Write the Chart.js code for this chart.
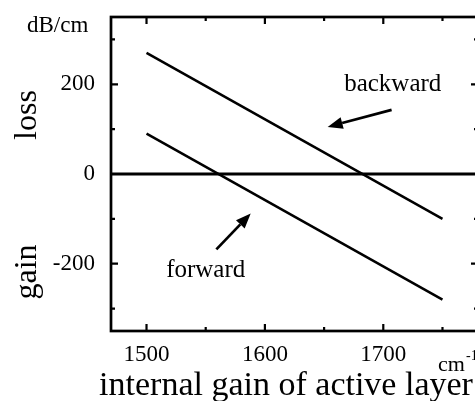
<!DOCTYPE html>
<html>
<head>
<meta charset="utf-8">
<script src="https://cdn.jsdelivr.net/npm/chart.js@4.4.1/dist/chart.umd.min.js"></script>
<style>
  html, body { margin: 0; padding: 0; background: #fff; overflow: hidden; }
  #wrap { width: 475px; height: 401px; overflow: hidden; }
  #wrap div { width: 482px; height: 401px; }
</style>
</head>
<body>
<div id="wrap"><div><canvas id="chart" width="482" height="401"></canvas></div></div>
<script>
// data
const wavenumbers = [1500, 1750];
const backwardLoss = [270, -100];
const forwardLoss = [90, -280];
const zeroLineX = [1470, 1780];
const zeroLineY = [0, 0];

const xTickLabels = [1500, 1600, 1700];
const xMinorTicks = [1550, 1650, 1750];
const yTickLabels = [-200, 0, 200];
const yMinorTicks = [-300, -100, 100, 300];

// arrow tail -> head, in data units
const backwardArrow = [[1707, 143], [1653, 105]];
const forwardArrow = [[1559, -168], [1588, -88]];
const backwardLabel = [1708, 185];
const forwardLabel = [1550, -230];

const serif = '"Liberation Serif", "Times New Roman", serif';

const toPoints = (xs, ys) => xs.map((x, i) => ({ x: x, y: ys[i] }));

const decorations = {
  id: 'decorations',
  afterDraw(chart) {
    const ctx = chart.ctx;
    const a = chart.chartArea;
    const xs = chart.scales.x, ys = chart.scales.y;
    ctx.save();
    ctx.strokeStyle = '#000';
    ctx.fillStyle = '#000';

    // frame
    ctx.lineWidth = 2.7;
    ctx.strokeRect(a.left, a.top, a.right - a.left, a.bottom - a.top);

    // inward ticks on all four sides
    const tick = (len, px, vertical) => {
      if (vertical) {
        ctx.beginPath();
        ctx.moveTo(px, a.bottom); ctx.lineTo(px, a.bottom - len);
        ctx.moveTo(px, a.top); ctx.lineTo(px, a.top + len);
        ctx.stroke();
      } else {
        ctx.beginPath();
        ctx.moveTo(a.left, px); ctx.lineTo(a.left + len, px);
        ctx.moveTo(a.right, px); ctx.lineTo(a.right - len, px);
        ctx.stroke();
      }
    };
    ctx.lineWidth = 2.2;
    xTickLabels.forEach(v => tick(7, xs.getPixelForValue(v), true));
    xMinorTicks.forEach(v => tick(4, xs.getPixelForValue(v), true));
    yTickLabels.forEach(v => tick(7, ys.getPixelForValue(v), false));
    yMinorTicks.forEach(v => tick(4, ys.getPixelForValue(v), false));

    // arrows
    const arrow = (pts) => {
      const x1 = xs.getPixelForValue(pts[0][0]), y1 = ys.getPixelForValue(pts[0][1]);
      const x2 = xs.getPixelForValue(pts[1][0]), y2 = ys.getPixelForValue(pts[1][1]);
      const ang = Math.atan2(y2 - y1, x2 - x1);
      const hl = 15, hw = 6;
      const bx = x2 - hl * Math.cos(ang), by = y2 - hl * Math.sin(ang);
      ctx.lineWidth = 2.7;
      ctx.beginPath();
      ctx.moveTo(x1, y1); ctx.lineTo(bx, by);
      ctx.stroke();
      ctx.beginPath();
      ctx.moveTo(x2, y2);
      ctx.lineTo(bx + hw * Math.sin(ang), by - hw * Math.cos(ang));
      ctx.lineTo(bx - hw * Math.sin(ang), by + hw * Math.cos(ang));
      ctx.closePath();
      ctx.fill();
    };
    arrow(backwardArrow);
    arrow(forwardArrow);

    // text
    ctx.textBaseline = 'alphabetic';
    ctx.textAlign = 'center';
    ctx.font = '25px ' + serif;
    ctx.fillText('backward', xs.getPixelForValue(backwardLabel[0]), ys.getPixelForValue(backwardLabel[1]));
    ctx.fillText('forward', xs.getPixelForValue(forwardLabel[0]), ys.getPixelForValue(forwardLabel[1]));

    ctx.font = '34px ' + serif;
    ctx.fillText('internal gain of active layer', 286, 395);

    ctx.textAlign = 'left';
    ctx.font = '23px ' + serif;
    ctx.fillText('dB/cm', 27, 32);
    ctx.font = '22px ' + serif;
    ctx.fillText('cm', 438, 371);
    ctx.font = '14px ' + serif;
    ctx.fillText('-1', 466, 360);

    ctx.font = '32px ' + serif;
    ctx.textAlign = 'center';
    ctx.save();
    ctx.translate(36, 115);
    ctx.rotate(-Math.PI / 2);
    ctx.fillText('loss', 0, 0);
    ctx.restore();
    ctx.save();
    ctx.translate(36, 272);
    ctx.rotate(-Math.PI / 2);
    ctx.fillText('gain', 0, 0);
    ctx.restore();

    ctx.restore();
  }
};

new Chart(document.getElementById('chart'), {
  type: 'scatter',
  data: {
    datasets: [
      { label: 'backward', data: toPoints(wavenumbers, backwardLoss), showLine: true, borderColor: '#000', borderWidth: 2.5, pointRadius: 0 },
      { label: 'forward', data: toPoints(wavenumbers, forwardLoss), showLine: true, borderColor: '#000', borderWidth: 2.5, pointRadius: 0 },
      { label: 'zero', data: toPoints(zeroLineX, zeroLineY), showLine: true, borderColor: '#000', borderWidth: 3, pointRadius: 0 }
    ]
  },
  options: {
    responsive: false,
    animation: false,
    layout: { padding: { left: 0, top: 17, right: 4, bottom: 0 } },
    plugins: { legend: { display: false }, tooltip: { enabled: false } },
    scales: {
      x: {
        type: 'linear', min: 1470, max: 1780,
        grid: { display: false }, border: { display: false },
        afterBuildTicks: s => { s.ticks = xTickLabels.map(v => ({ value: v })); },
        afterFit: s => { s.height = 70; s.paddingLeft = 0; s.paddingRight = 0; },
        ticks: { color: '#000', padding: 2, maxRotation: 0, font: { family: serif, size: 23 }, callback: v => String(v) }
      },
      y: {
        type: 'linear', min: -350, max: 350,
        grid: { display: false }, border: { display: false },
        afterBuildTicks: s => { s.ticks = yTickLabels.map(v => ({ value: v })); },
        afterFit: s => { s.width = 111; s.paddingTop = 0; s.paddingBottom = 0; },
        ticks: { color: '#000', padding: 8, font: { family: serif, size: 23 }, callback: v => String(v) }
      }
    }
  },
  plugins: [decorations]
});
</script>
</body>
</html>
